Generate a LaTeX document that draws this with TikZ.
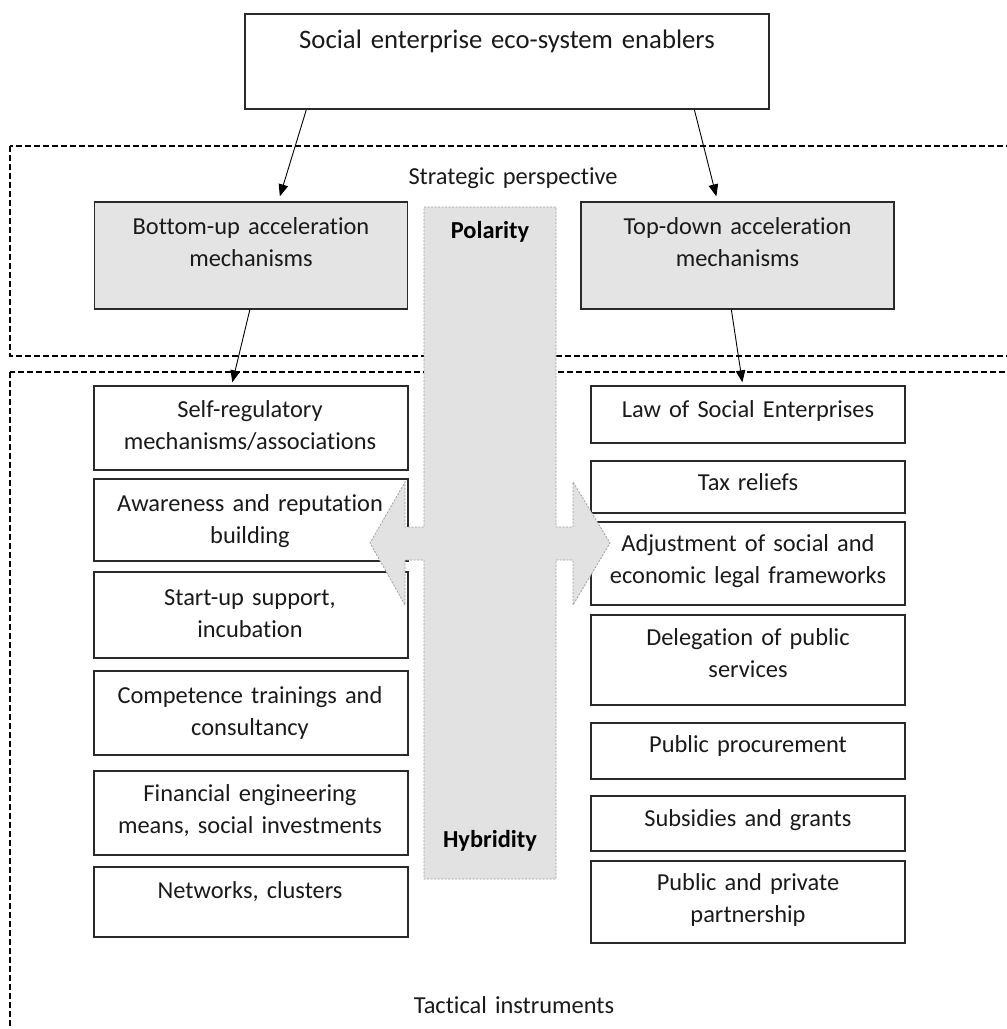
\documentclass[tikz,border=0pt]{standalone}
\usepackage{fontspec}
\setmainfont{Carlito}[Ligatures={NoCommon}]
\usetikzlibrary{arrows.meta,calc}
\definecolor{boxgray}{HTML}{E4E4E4}
\definecolor{colgray}{HTML}{E2E2E2}
\definecolor{edgegray}{HTML}{A0A0A0}
\definecolor{lineblk}{HTML}{2A2A2A}
\definecolor{txtblk}{HTML}{1A1A1A}
\tikzset{
  plainbox/.style={draw=lineblk, line width=1.3pt, fill=white, inner sep=0pt, minimum width=314pt},
  graybox/.style={draw=lineblk, line width=1.3pt, fill=boxgray, inner sep=0pt, minimum width=313pt, minimum height=107pt},
  txt/.style={font=\fontsize{24.4}{32.5}\selectfont, text=txtblk, text width=310pt, align=center, inner sep=0pt, anchor=base},
  boldtxt/.style={font=\fontsize{24.4}{32.5}\selectfont\bfseries, text=black, inner sep=0pt, anchor=base},
  arr/.style={draw=black, line width=0.9pt, -{Triangle[length=12pt,width=9.5pt]}},
  framebox/.style={draw=black, line width=1.1pt, dash pattern=on 6pt off 3pt},
  colshape/.style={fill=colgray, draw=edgegray, line width=0.8pt, dash pattern=on 2pt off 1.5pt},
}
\begin{document}
\begin{tikzpicture}[x=1pt,y=-1pt]
\useasboundingbox (0,0) rectangle (1007,1029);
\clip (0,0) rectangle (1007,1029);
\fill[white] (0,0) rectangle (1007,1029);

% dashed frames
\draw[framebox] (10,146) rectangle (1030,356);
\draw[framebox] (10,372) rectangle (1030,1060);
\node[txt] (strat) at (513,184) {Strategic perspective};
\node[txt] (tact) at (514,1013) {Tactical instruments};

% top box
\node[plainbox, minimum width=524pt, minimum height=95pt] (top) at (507,61.5) {};
\node[txt, font=\fontsize{26.7}{32.5}\selectfont, text width=520pt] (topt) at (507,48) {Social enterprise eco-system enablers};

% gray boxes
\node[graybox] (bu) at (251,255.5) {};
\node[txt] (but) at (251,234) {Bottom-up acceleration\\mechanisms};
\node[graybox] (td) at (737.5,255.5) {};
\node[txt] (tdt) at (737.5,234) {Top-down acceleration\\mechanisms};

% left column
\node[plainbox, minimum height=84pt] (l1) at (251,428) {};
\node[txt] (l1t) at (250,417) {Self-regulatory\\mechanisms/associations};
\node[plainbox, minimum height=82pt] (l2) at (251,520) {};
\node[txt] (l2t) at (250,511) {Awareness and reputation\\building};
\node[plainbox, minimum height=86pt] (l3) at (251,615) {};
\node[txt] (l3t) at (250,605) {Start-up support,\\incubation};
\node[plainbox, minimum height=84pt] (l4) at (251,713) {};
\node[txt] (l4t) at (250,703) {Competence trainings and\\consultancy};
\node[plainbox, minimum height=84pt] (l5) at (251,813) {};
\node[txt] (l5t) at (250,801) {Financial engineering\\means, social investments};
\node[plainbox, minimum height=70pt] (l6) at (251,902) {};
\node[txt] (l6t) at (250,898) {Networks, clusters};

% right column
\node[plainbox, minimum height=57pt] (r1) at (748,414.5) {};
\node[txt] (r1t) at (748,417) {Law of Social Enterprises};
\node[plainbox, minimum height=52pt] (r2) at (748,487) {};
\node[txt] (r2t) at (748,490) {Tax reliefs};
\node[plainbox, minimum height=83pt] (r3) at (748,563.5) {};
\node[txt] (r3t) at (748,551) {Adjustment of social and\\economic legal frameworks};
\node[plainbox, minimum height=90pt] (r4) at (748,660) {};
\node[txt] (r4t) at (748,645) {Delegation of public\\services};
\node[plainbox, minimum height=56pt] (r5) at (748,751) {};
\node[txt] (r5t) at (748,752) {Public procurement};
\node[plainbox, minimum height=55pt] (r6) at (748,823.5) {};
\node[txt] (r6t) at (748,826) {Subsidies and grants};
\node[plainbox, minimum height=82pt] (r7) at (748,902) {};
\node[txt] (r7t) at (748,890) {Public and private\\partnership};

% central polarity / hybridity shape
\draw[colshape] (424,207) -- (556,207) -- (556,527) -- (573,527) -- (573,482) -- (610,543)
  -- (573,605) -- (573,560) -- (556,560) -- (556,879) -- (424,879) -- (424,560)
  -- (405,560) -- (405,605) -- (370,543) -- (405,482) -- (405,527) -- (424,527) -- cycle;
\node[boldtxt] (pol) at (490,238) {Polarity};
\node[boldtxt] (hyb) at (490,847) {Hybridity};

% arrows
\draw[arr] ($(top.south west)+(62,0)$) -- ($(bu.north west)+(186,-5)$);
\draw[arr] ($(top.south west)+(450,0)$) -- ($(td.north west)+(136,-5)$);
\draw[arr] ($(bu.south west)+(156,0)$) -- ($(l1.north west)+(139,-3)$);
\draw[arr] ($(td.south west)+(151,0)$) -- ($(r1.north west)+(152,-3)$);
\end{tikzpicture}
\end{document}
